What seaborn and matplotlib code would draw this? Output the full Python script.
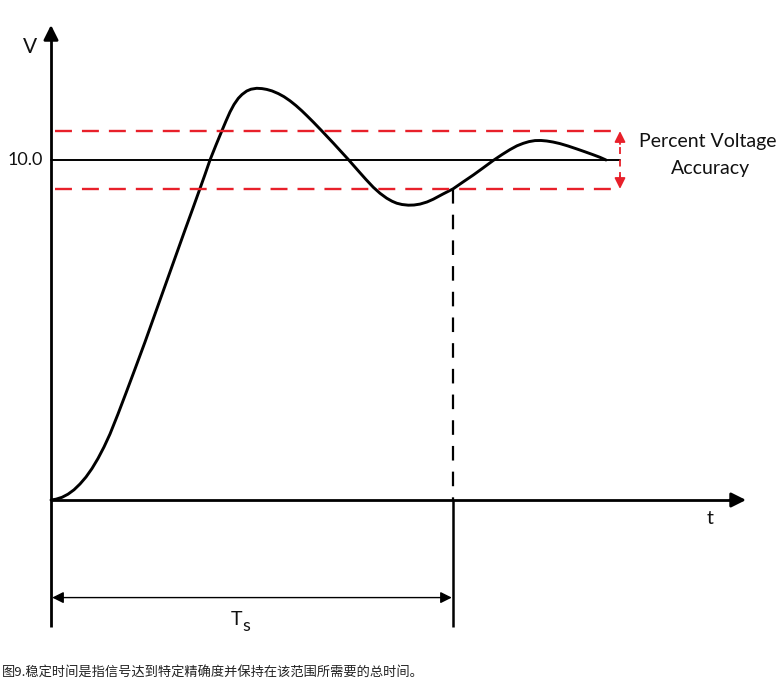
import matplotlib
matplotlib.use("Agg")
import matplotlib.pyplot as plt
import seaborn as sns
import pandas as pd

# ---------------- data ----------------
t_vals = [0.0, 0.125, 0.275, 0.425, 0.575, 0.725, 0.875, 1.025, 1.175, 1.325,
          1.475, 1.675, 1.875, 2.1, 2.35, 2.6, 2.85, 3.1, 3.35, 3.55,
          3.725, 3.85, 3.975, 4.125, 4.275, 4.375, 4.475, 4.575, 4.683, 4.775,
          4.893, 5.0, 5.143, 5.275, 5.393, 5.525, 5.683, 5.825, 5.975, 6.125,
          6.268, 6.4, 6.558, 6.768, 6.9, 7.058, 7.25, 7.433, 7.575, 7.725,
          7.875, 8.058, 8.225, 8.393, 8.525, 8.643, 8.775, 8.933, 9.075, 9.225,
          9.4, 9.558, 9.8, 10.05, 10.3, 10.558, 10.8, 11.058, 11.275, 11.475,
          11.65, 11.808, 11.95, 12.1, 12.25, 12.393, 12.55, 12.725, 12.925, 13.143,
          13.35, 13.558, 13.725, 13.875]
v_vals = [0.0, 0.024, 0.079, 0.171, 0.3, 0.471, 0.676, 0.926, 1.221, 1.559,
          1.941, 2.529, 3.147, 3.853, 4.647, 5.471, 6.294, 7.118, 7.941, 8.588,
          9.162, 9.574, 10.0, 10.441, 10.868, 11.147, 11.412, 11.632, 11.815, 11.926,
          12.029, 12.082, 12.109, 12.100, 12.076, 12.032, 11.953, 11.862, 11.741, 11.6,
          11.45, 11.3, 11.115, 10.859, 10.694, 10.497, 10.25, 10.015, 9.824, 9.624,
          9.426, 9.197, 9.021, 8.876, 8.788, 8.729, 8.691, 8.671, 8.676, 8.703,
          8.765, 8.847, 9.0, 9.15, 9.353, 9.559, 9.765, 9.988, 10.159, 10.306,
          10.418, 10.491, 10.541, 10.571, 10.574, 10.559, 10.529, 10.482, 10.412, 10.326,
          10.241, 10.153, 10.079, 10.0]
target_v = 10.0
band_upper = 10.85
band_lower = 9.15
settle_t = 10.05
t_axis_end = 17.375
v_axis_top = 13.97
v_axis_bottom = -3.74
band_end_t = 14.225
tick_label = "10.0"
caption = "图9.稳定时间是指信号达到特定精确度并保持在该范围所需要的总时间。"

df = pd.DataFrame({"t": t_vals, "V": v_vals})

# ---------------- style ----------------
sns.set_style("white")
plt.rcParams["font.family"] = ["Lato", "DejaVu Sans"]
plt.rcParams["lines.scale_dashes"] = False

fig = plt.figure(figsize=(7.82, 7.00), dpi=100)
ax = fig.add_axes([0, 0, 1, 1])
ax.set_xlim(-1.275, 18.275)
ax.set_ylim(-200 / 34, 500 / 34)
ax.axis("off")

red = "#e8202a"

# response curve
sns.lineplot(data=df, x="t", y="V", ax=ax, color="black", lw=2.1,
             sort=False, estimator=None, legend=False,
             solid_joinstyle="round", solid_capstyle="round")

# target line
ax.plot([0, band_end_t], [target_v, target_v], color="black", lw=1.4)

# accuracy band
for v in (band_upper, band_lower):
    ax.plot([0.1, band_end_t], [v, v], color=red, lw=1.7,
            linestyle=(0, (12.2, 7.2)))

# vertical band arrow
ax.plot([band_end_t, band_end_t], [band_lower + 0.3, band_upper - 0.3],
        color=red, lw=1.3, linestyle=(0, (5, 4)))
for tip, base in ((band_upper, band_upper - 0.38), (band_lower, band_lower + 0.38)):
    ax.annotate("", xy=(band_end_t, tip), xytext=(band_end_t, base),
                arrowprops=dict(arrowstyle="-|>", color=red, lw=1.3,
                                mutation_scale=16, shrinkA=0, shrinkB=0))

# axes with arrows
ax.plot([0, 0], [v_axis_bottom, v_axis_top - 0.3], color="black", lw=2.0,
        solid_capstyle="butt")
ax.annotate("", xy=(0, v_axis_top), xytext=(0, v_axis_top - 0.4),
            arrowprops=dict(arrowstyle="-|>", color="black", lw=2.0,
                            mutation_scale=22, shrinkA=0, shrinkB=0))
ax.plot([0, t_axis_end - 0.3], [0, 0], color="black", lw=2.0,
        solid_capstyle="butt")
ax.annotate("", xy=(t_axis_end, 0), xytext=(t_axis_end - 0.4, 0),
            arrowprops=dict(arrowstyle="-|>", color="black", lw=2.0,
                            mutation_scale=22, shrinkA=0, shrinkB=0))

# settling time marker
ax.plot([settle_t, settle_t], [band_lower, 0], color="black", lw=1.6,
        linestyle=(0, (10.5, 8)))
ax.plot([settle_t, settle_t], [0, v_axis_bottom], color="black", lw=1.8,
        solid_capstyle="butt")
ax.annotate("", xy=(0.03, -2.87), xytext=(settle_t - 0.03, -2.87),
            arrowprops=dict(arrowstyle="<|-|>", color="black", lw=1.0,
                            mutation_scale=17, shrinkA=0, shrinkB=0))

# texts
ax.text(-0.525, 13.32, "V", fontsize=15, ha="center", va="center", color="#111")
ax.text(-0.2, 10.0, tick_label, fontsize=13, ha="right", va="center", color="#111")
ax.text(16.475, -0.53, "t", fontsize=14, ha="center", va="center", color="#111")
ax.text(4.775, -3.52, "T", fontsize=14, ha="right", va="center", color="#111")
ax.text(4.775, -3.72, "s", fontsize=13, ha="left", va="center", color="#111")
ax.text(16.425, 10.53, "Percent Voltage", fontsize=14, ha="center",
        va="center", color="#111")
ax.text(16.475, 9.74, "Accuracy", fontsize=14, ha="center", va="center",
        color="#111")

fig.text(2 / 782, 1 - 673 / 700, caption, fontsize=9.5, ha="left", va="center",
         color="#222222", family=["Noto Sans CJK SC", "DejaVu Sans"])

fig.savefig("out.png", dpi=100, facecolor="white")
